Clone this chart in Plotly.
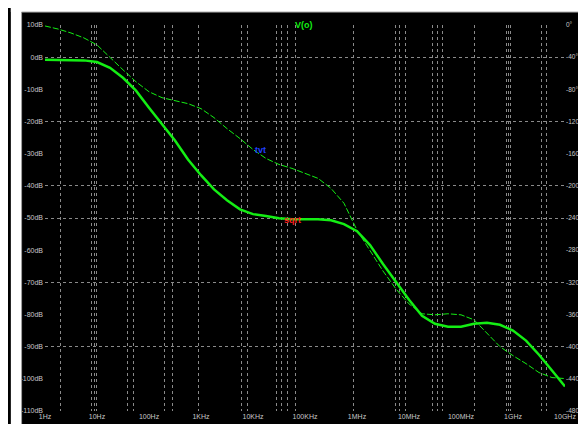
import plotly.graph_objects as go

# ---- data ----
freq = [1, 1.78, 3.16, 5.62, 10, 17.8, 31.6, 56.2, 100, 178, 316, 562,
        1e3, 1.78e3, 3.16e3, 5.62e3, 1e4, 1.78e4, 3.16e4, 5.62e4,
        1e5, 1.78e5, 3.16e5, 5.62e5, 1e6, 1.78e6, 3.16e6, 5.62e6,
        1e7, 1.78e7, 3.16e7, 5.62e7, 1e8, 1.78e8, 3.16e8, 5.62e8,
        1e9, 1.78e9, 3.16e9, 5.62e9, 1e10]
mag_db = [-0.8, -0.8, -0.8, -1.0, -1.5, -3.3, -6.4, -10.4, -15.7, -21.0,
          -25.9, -31.8, -36.7, -41.1, -44.5, -47.3, -48.8, -49.4, -50.1, -50.4,
          -50.4, -50.4, -50.7, -51.9, -54.1, -58.4, -64.3, -69.9, -75.4, -80.4,
          -82.9, -83.8, -83.8, -82.9, -82.6, -83.2, -85.0, -88.1, -92.5, -97.4,
          -102.4]
phase_deg = [-1.2, -5.0, -9.9, -16.1, -24.8, -40.9, -55.7, -70.6, -83.0, -90.4,
             -94.1, -97.8, -104.0, -115.2, -128.8, -141.2, -154.8, -166.0, -173.4, -178.3,
             -184.5, -190.7, -203.1, -221.7, -255.1, -281.1, -305.9, -328.2, -346.8, -359.1,
             -360.4, -359.1, -360.4, -366.6, -382.7, -400.0, -411.2, -421.1, -432.2, -438.4,
             -439.7]

x_tickvals = [1, 10, 100, 1e3, 1e4, 1e5, 1e6, 1e7, 1e8, 1e9, 1e10]
x_ticktext = ["1Hz", "10Hz", "100Hz", "1KHz", "10KHz", "100KHz",
              "1MHz", "10MHz", "100MHz", "1GHz", "10GHz"]
db_tickvals = [10, 0, -10, -20, -30, -40, -50, -60, -70, -80, -90, -100, -110]
db_ticktext = ["10dB", "0dB", "-10dB", "-20dB", "-30dB", "-40dB", "-50dB",
               "-60dB", "-70dB", "-80dB", "-90dB", "-100dB", "-110dB"]
ph_tickvals = [0, -40, -80, -120, -160, -200, -240, -280, -320, -360, -400, -440, -480]
ph_ticktext = [f"{v}°" for v in ph_tickvals]

# visible grid lines (style)
x_grid = [2.0, 7.9, 9.1, 9.9, 39.4, 50.9, 203, 287, 883, 5.9e3, 7.7e3,
          2.8e4, 3.6e4, 4.7e4, 6.6e4, 8.5e5, 5.4e6, 6.5e6, 8.7e6,
          2.8e7, 3.6e7, 4.5e7, 1.8e8, 7.5e8, 8.2e8, 8.9e8, 3.5e9, 4.4e9]
db_grid = [0, -20, -40, -50, -70, -90]

GREEN = "#14ee14"
LBL = "#c8c8c8"
GRID = "#8a8a8a"
FAM = "Liberation Sans Narrow, Liberation Sans, Arial, sans-serif"
FONT = dict(family=FAM, size=7, color=LBL)
FONT_R = dict(family=FAM, size=6.5, color=LBL)

fig = go.Figure()
fig.add_trace(go.Scatter(x=freq, y=mag_db, mode="lines", yaxis="y",
                         line=dict(color=GREEN, width=2.5), showlegend=False))
fig.add_trace(go.Scatter(x=freq, y=phase_deg, mode="lines", yaxis="y2",
                         line=dict(color=GREEN, width=1, dash="6px,2px"),
                         showlegend=False))

fig.update_layout(
    width=586, height=424,
    margin=dict(l=35, r=18, t=17, b=19),
    paper_bgcolor="black", plot_bgcolor="black",
    font=FONT,
    xaxis=dict(type="log", range=[0, 10], tickmode="array",
               tickvals=x_tickvals, ticktext=x_ticktext, showgrid=False,
               zeroline=False, showline=False, ticks="", tickfont=FONT,
               minor=dict(tickmode="array", tickvals=x_grid, showgrid=True,
                          gridcolor=GRID, griddash="dot", gridwidth=1, ticks="")),
    yaxis=dict(range=[-110, 10], tickmode="array", tickvals=db_tickvals,
               ticktext=db_ticktext, showgrid=False, zeroline=False,
               showline=False, ticks="", tickfont=FONT, ticklabelstandoff=1,
               minor=dict(tickmode="array", tickvals=db_grid, showgrid=True,
                          gridcolor=GRID, griddash="dot", gridwidth=1, ticks="")),
    yaxis2=dict(range=[-480, 0], overlaying="y", side="right", tickmode="array",
                tickvals=ph_tickvals, ticktext=ph_ticktext, showgrid=False,
                zeroline=False, showline=False, ticks="", tickfont=FONT_R,
                ticklabelstandoff=0),
    shapes=[
        dict(type="rect", xref="paper", yref="paper", x0=-35/533, x1=-24/533,
             y0=-19/388, y1=1+17/388, fillcolor="white", line=dict(width=0), layer="below"),
        dict(type="rect", xref="paper", yref="paper", x0=-35/533, x1=1+18/533,
             y0=1+13/388, y1=1+17/388, fillcolor="white", line=dict(width=0), layer="below"),
        dict(type="line", xref="paper", yref="paper", x0=-24/533, x1=-24/533,
             y0=-19/388, y1=1+13/388, line=dict(color="#a0a0a0", width=1)),
        dict(type="line", xref="paper", yref="paper", x0=-24/533, x1=1+18/533,
             y0=1+13/388, y1=1+13/388, line=dict(color="#a0a0a0", width=1)),
    ],
    annotations=[
        dict(text="<b>V(o)</b>", xref="paper", yref="paper", x=(300-35)/533, y=1+7/388,
             showarrow=False, font=dict(family=FAM, size=9, color=GREEN)),
        dict(text="<b>tvt</b>", xref="x", yref="y", x=4.146, y=-29.0, showarrow=False,
             font=dict(family=FAM, size=9, color="#2040ff")),
        dict(text="<b>sqrt</b>", xref="x", yref="y", x=4.75, y=-50.5, showarrow=False,
             font=dict(family=FAM, size=9, color="#ff2020")),
    ],
)

fig.write_html("out.html")
